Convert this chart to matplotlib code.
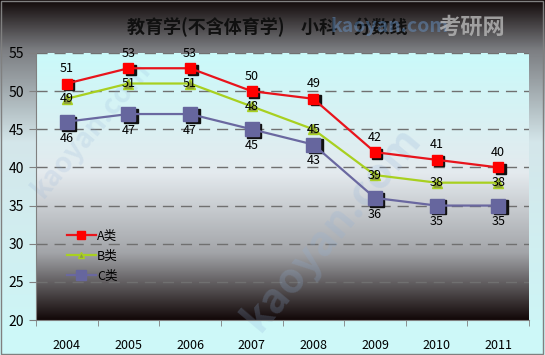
import matplotlib
matplotlib.use('Agg')
import matplotlib.pyplot as plt
from matplotlib.colors import LinearSegmentedColormap
import numpy as np

plt.rcParams['font.family'] = ['Noto Sans CJK SC', 'DejaVu Sans']

years = ['2004', '2005', '2006', '2007', '2008', '2009', '2010', '2011']
a_vals = [51, 53, 53, 50, 49, 42, 41, 40]
b_vals = [49, 51, 51, 48, 45, 39, 38, 38]
c_vals = [46, 47, 47, 45, 43, 36, 35, 35]
title = '教育学(不含体育学)    小科    分数线'

fig = plt.figure(figsize=(5.45, 3.55), dpi=100)

# outer background gradient (dark top -> light cyan bottom)
bg = fig.add_axes([0, 0, 1, 1], zorder=-10)
outer = LinearSegmentedColormap.from_list('outer', [
    (0.0, '#120a0a'), (0.14, '#7c7e82'), (0.40, '#d4e6ea'), (1.0, '#cdf8f8')])
bg.imshow(np.linspace(0, 1, 256).reshape(-1, 1), aspect='auto', cmap=outer,
          extent=[0, 1, 1, 0])
bg.set_xlim(0, 1); bg.set_ylim(1, 0)
bg.axis('off')
bg.add_patch(plt.Rectangle((0, 320/355), 1, 1, color='#cdf8f8'))
bg.add_patch(plt.Rectangle((0.002, 0.003), 0.995, 0.993, fill=False, ec='#808080', lw=1))

ax = fig.add_axes([36/545, 1 - 320/355, (529-36)/545, (320-53)/355])
x = np.arange(len(years))

# plot area gradient (cyan top -> black bottom)
inner = LinearSegmentedColormap.from_list('inner', [
    (0.0, '#cafafa'), (0.45, '#e4eaee'), (0.75, '#a2a4a8'), (1.0, '#120808')])
ax.imshow(np.linspace(0, 1, 256).reshape(-1, 1), aspect='auto', cmap=inner,
          extent=[-0.5, 7.5, 20, 55], zorder=0)

for yv in range(25, 56, 5):
    ax.axhline(yv, color='#707070', lw=1, dashes=(8, 5), zorder=1)

# faint diagonal watermark
ax.text(4.3, 32, 'kaoyan.com', fontsize=30, color='#8fb0d8', alpha=0.22,
        rotation=50, ha='center', va='center', fontweight='bold', zorder=1)
ax.text(0.4, 45, 'kaoyan.com', fontsize=20, color='#8fb0d8', alpha=0.18,
        rotation=50, ha='center', va='center', fontweight='bold', zorder=1)

shadow = dict(color='#101010', lw=0, zorder=2)
ax.plot(x + 0.04, np.array(a_vals) - 0.22, 's', ms=7.5, **shadow)
ax.plot(x + 0.04, np.array(c_vals) - 0.25, 's', ms=9.5, **shadow)

ax.plot(x, a_vals, color='#e8141c', lw=1.6, marker='s', ms=7.5, mfc='#ff0000',
        mec='#ff0000', label='A类', zorder=4)
ax.plot(x, b_vals, color='#a8d020', lw=1.6, marker='^', ms=6.5, mfc='#8a9a40',
        mec='#a8d020', label='B类', zorder=3)
ax.plot(x, c_vals, color='#6a68a0', lw=1.6, marker='s', ms=9.5, mfc='#66669e',
        mec='#66669e', label='C类', zorder=3)

for i in range(len(years)):
    ax.text(x[i], a_vals[i] + 1.1, str(a_vals[i]), ha='center', va='bottom', fontsize=9, zorder=6)
    ax.text(x[i], b_vals[i], str(b_vals[i]), ha='center', va='center', fontsize=9, zorder=6)
    ax.text(x[i], c_vals[i] - 1.3, str(c_vals[i]), ha='center', va='top', fontsize=9, zorder=6)

ax.set_xlim(-0.5, 7.5)
ax.set_ylim(20, 55)
ax.set_yticks(range(20, 56, 5))
ax.set_xticks(x)
ax.set_xticklabels(years, fontsize=9)
ax.set_xticks(np.arange(-0.5, 7.6, 1), minor=True)
ax.tick_params(axis='x', which='major', length=0, pad=14)
ax.tick_params(axis='x', which='minor', length=4, color='#808080', direction='out')
ax.tick_params(axis='y', labelsize=10, length=5, color='#808080')
for s in ['top', 'right']:
    ax.spines[s].set_visible(False)
for s in ['left', 'bottom']:
    ax.spines[s].set_color('#808080')

leg = ax.legend(loc='upper left', bbox_to_anchor=(0.04, 0.38), frameon=False,
                fontsize=9, handlelength=2.3, labelspacing=0.55, handletextpad=0.1,
                markerscale=0.75)

fig.text(0.49, 1 - 27/355, title, ha='center', va='center', fontsize=13,
         fontweight='bold', color='#101010')
fig.text(0.715, 1 - 27/355, 'kaoyan.com', ha='center', va='center', fontsize=14,
         color='#6a9ad0', alpha=0.45, fontweight='bold')
fig.text(0.865, 1 - 27/355, '考研网', ha='center', va='center', fontsize=16,
         color='#b8b8b8', alpha=0.8, fontweight='bold')

fig.savefig('out.png', dpi=100)
